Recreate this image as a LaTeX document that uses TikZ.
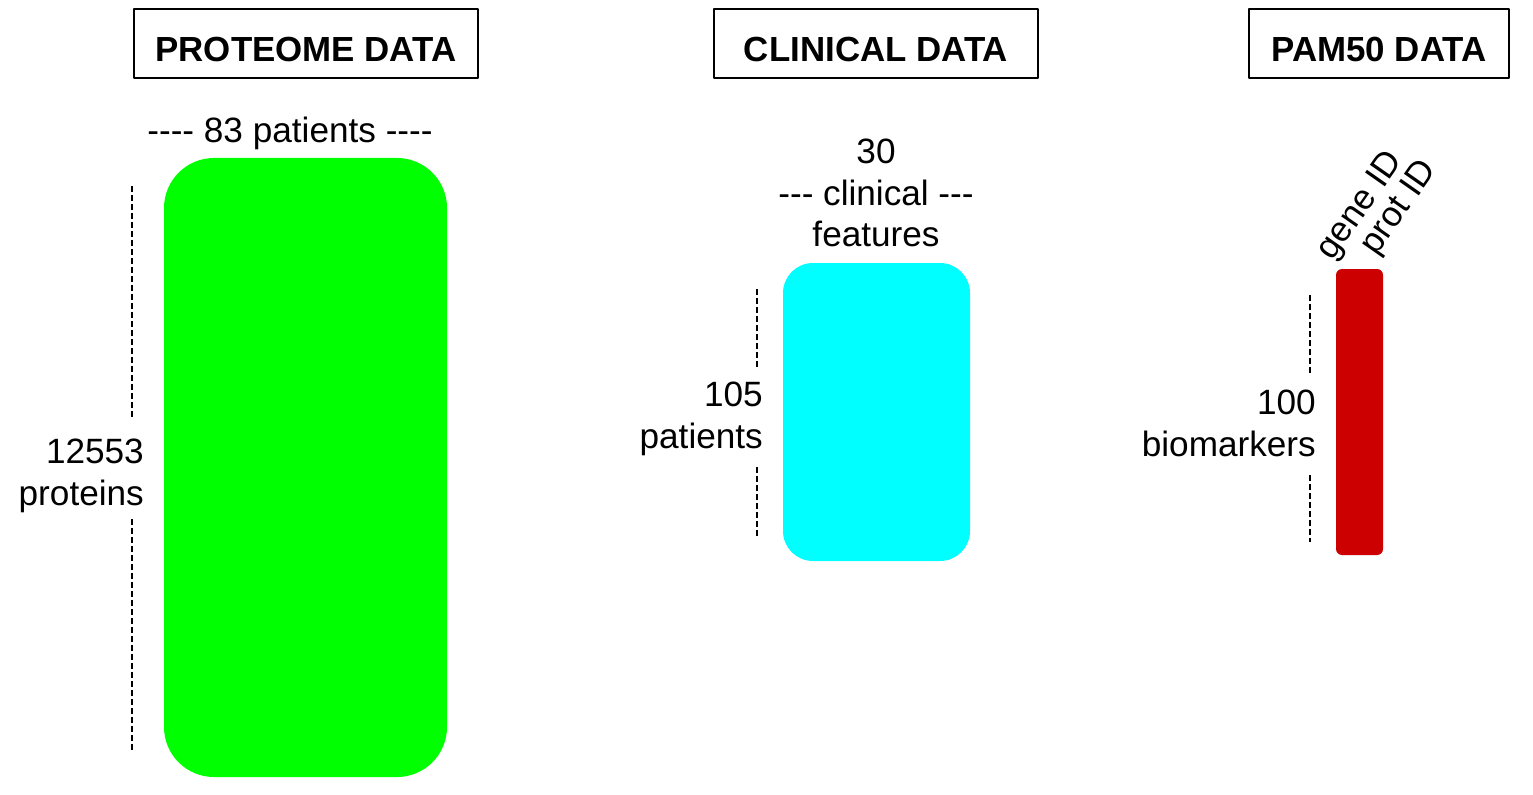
\documentclass[tikz,border=0pt]{standalone}
\usepackage{fontspec}
\setmainfont{Liberation Sans}
\newfontfamily\plainsans{Liberation Sans}
\definecolor{protgreen}{HTML}{00FF00}
\definecolor{clincyan}{HTML}{00FFFF}
\definecolor{pamred}{HTML}{CC0000}
\begin{document}
\begin{tikzpicture}[x=1bp,y=-1bp,line join=bevel,
  title/.style={draw,line width=1.3bp,inner sep=0pt,minimum height=69bp,text height=36bp,text depth=0pt,font=\plainsans\bfseries\fontsize{35}{40}\selectfont},
  block/.style={inner sep=0pt,draw=none},
  lbl/.style={inner sep=0pt,font=\plainsans\fontsize{35.3}{42}\selectfont},
  dim/.style={line width=2.2bp,dash pattern=on 6bp off 3bp}]
%%
\useasboundingbox (0,0) rectangle (1533,794);
% titles
\node (title_prot) at (306,43.5) [title,minimum width=344bp] {PROTEOME DATA};
\node (title_clin) at (876,43.5) [title,minimum width=324bp] {CLINICAL DATA};
\node (title_pam) at (1379,43.5) [title,minimum width=260bp] {PAM50 DATA};
%
% data blocks
\node (prot) at (305.5,467.5) [block,fill=protgreen,minimum width=283bp,minimum height=619bp,rounded corners=50bp] {};
\node (clin) at (876.5,412) [block,fill=clincyan,minimum width=187bp,minimum height=298bp,rounded corners=30bp] {};
\node (pam) at (1359.5,412) [block,fill=pamred,minimum width=47bp,minimum height=286bp,rounded corners=6bp] {};
%
% proteome labels
\node (prot_cols) at (290,133) [lbl] {---- 83 patients ----};
\node (prot_rows) at (144,476) [lbl,anchor=east,align=right] {12553\\proteins};
\draw [dim] (132,186) -- (132,418);
\draw [dim] (132,519) -- (132,751);
%
% clinical labels
\node (clin_cols) at (876,193) [lbl,align=center] {30\\--- clinical ---\\features};
\node (clin_rows) at (763,419) [lbl,anchor=east,align=right] {105\\patients};
\draw [dim] (757,289) -- (757,368);
\draw [dim] (757,467) -- (757,537);
%
% pam50 labels
\node (pam_gene) at (1361,206) [lbl,rotate=55] {gene ID};
\node (pam_prot) at (1400,208) [lbl,rotate=55] {prot ID};
\node (pam_rows) at (1316,423) [lbl,anchor=east,align=right] {100\\biomarkers};
\draw [dim] (1310,295) -- (1310,373);
\draw [dim] (1310,475) -- (1310,542);
%
\end{tikzpicture}
\end{document}
